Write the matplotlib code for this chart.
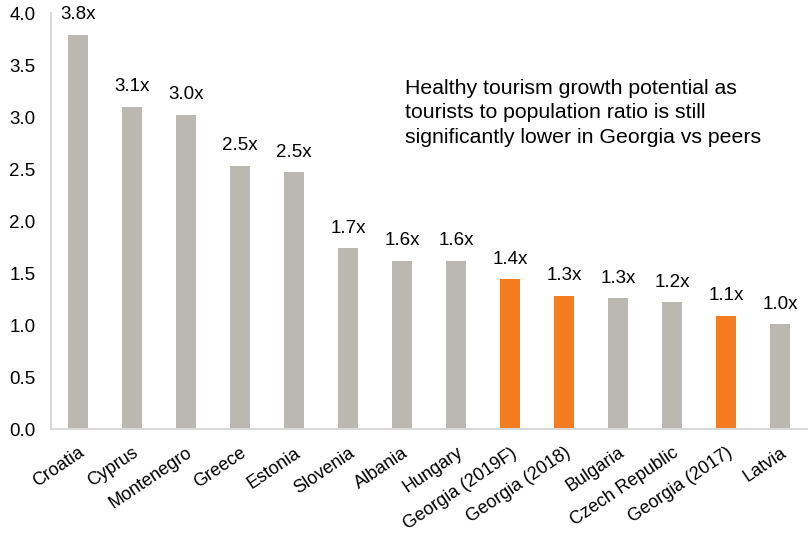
import matplotlib
matplotlib.use("Agg")
import matplotlib.pyplot as plt

plt.rcParams['font.family'] = ['Liberation Sans', 'DejaVu Sans']

# Tourist arrivals relative to population
countries = ['Croatia', 'Cyprus', 'Montenegro', 'Greece', 'Estonia', 'Slovenia',
             'Albania', 'Hungary', 'Georgia (2019F)', 'Georgia (2018)', 'Bulgaria',
             'Czech Republic', 'Georgia (2017)', 'Latvia']
ratios = [3.79, 3.10, 3.02, 2.53, 2.47, 1.74, 1.62, 1.62, 1.44, 1.28, 1.26,
          1.22, 1.09, 1.01]
highlight = ['Georgia (2019F)', 'Georgia (2018)', 'Georgia (2017)']

grey = '#bab8b0'
orange = '#f47b20'
colors = [orange if c in highlight else grey for c in countries]

fig = plt.figure(figsize=(8.08, 5.34), dpi=100)
ax = fig.add_axes([51 / 808, 105 / 534, 756 / 808, 416 / 534])

x = range(len(countries))
ax.bar(x, ratios, width=0.37, color=colors)

for xi, v in zip(x, ratios):
    ax.text(xi, v + 0.11, f'{v:.1f}x', ha='center', va='bottom', fontsize=13.5)

ax.set_xlim(-0.5, len(countries) - 0.5)
ax.set_ylim(0, 4.0)
ax.set_yticks([0, 0.5, 1.0, 1.5, 2.0, 2.5, 3.0, 3.5, 4.0])
ax.set_yticklabels([f'{t:.1f}' for t in ax.get_yticks()], fontsize=13.5)
ax.set_xticks(list(x))
ax.set_xticklabels(countries, rotation=34, ha='right', rotation_mode='anchor',
                   fontsize=13)
ax.tick_params(axis='both', length=0)
ax.tick_params(axis='x', pad=11)
ax.tick_params(axis='y', pad=11)

for side in ['top', 'right']:
    ax.spines[side].set_visible(False)
for side in ['left', 'bottom']:
    ax.spines[side].set_color('#d9d9d9')
    ax.spines[side].set_linewidth(1.5)

ax.text(0.468, 0.76, 'Healthy tourism growth potential as\n'
        'tourists to population ratio is still\n'
        'significantly lower in Georgia vs peers',
        transform=ax.transAxes, fontsize=15.3, va='center', ha='left',
        linespacing=1.37)

fig.savefig('out.png', dpi=100)
